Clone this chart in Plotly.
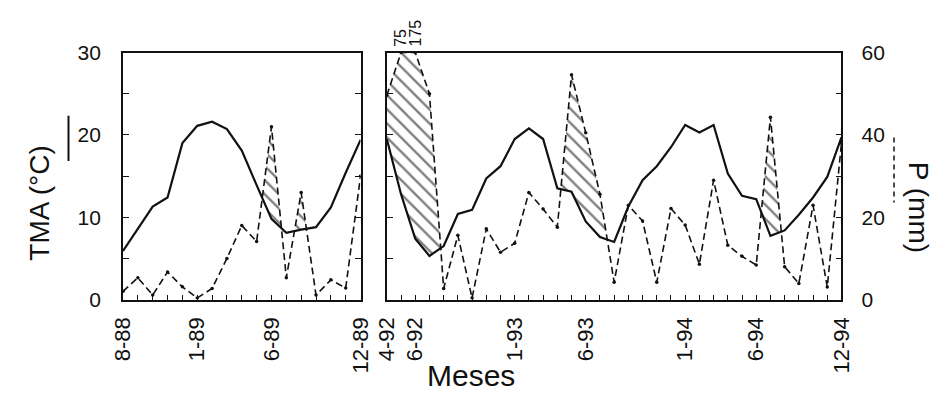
import numpy as np
import plotly.graph_objects as go

# ---------------- data ----------------
months_left = ["8-88", "9-88", "10-88", "11-88", "12-88", "1-89", "2-89", "3-89", "4-89",
               "5-89", "6-89", "7-89", "8-89", "9-89", "10-89", "11-89", "12-89"]
months_right = ["4-92", "5-92", "6-92", "7-92", "8-92", "9-92", "10-92", "11-92", "12-92",
                "1-93", "2-93", "3-93", "4-93", "5-93", "6-93", "7-93", "8-93", "9-93",
                "10-93", "11-93", "12-93", "1-94", "2-94", "3-94", "4-94", "5-94", "6-94",
                "7-94", "8-94", "9-94", "10-94", "11-94", "12-94"]
labels_left = ["8-88", "1-89", "6-89", "12-89"]
labels_right = ["4-92", "6-92", "1-93", "6-93", "1-94", "6-94", "12-94"]

tma_left = [5.9, 8.6, 11.3, 12.4, 19.0, 21.1, 21.6, 20.7, 18.1, 13.9, 9.8, 8.1, 8.5, 8.8,
            11.2, 15.4, 19.4]
p_left = [2.0, 5.3, 1.1, 6.7, 3.1, 0.4, 2.7, 10.0, 18.0, 14.1, 42.0, 5.3, 26.0, 1.1, 4.8,
          2.8, 30.0]

tma_right = [19.5, 12.8, 7.4, 5.3, 6.5, 10.4, 10.9, 14.7, 16.2, 19.5, 20.8, 19.5, 13.5, 13.1,
             9.5, 7.6, 7.0, 11.3, 14.5, 16.2, 18.5, 21.2, 20.3, 21.2, 15.3, 12.6, 12.2, 7.75,
             8.4, 10.3, 12.4, 14.9, 19.7]
p_right = [49.6, 75.0, 175.0, 50.0, 2.7, 15.6, 0.4, 17.2, 11.5, 13.7, 26.0, 22.0, 17.6, 54.6,
           40.5, 25.6, 4.2, 22.9, 19.1, 4.2, 22.1, 18.1, 8.6, 29.0, 13.2, 10.5, 8.4, 44.3,
           8.0, 3.9, 22.9, 3.05, 38.0]

T_MAX = 30
P_MAX = 60

FONT = "Liberation Sans, Arial, Helvetica, sans-serif"
INK = "#111111"


def hatch_bounds(tma, p):
    """Lower (T) and upper (max(P/2, T)) boundaries with crossing points inserted."""
    t = np.asarray(tma, float)
    ph = np.minimum(np.asarray(p, float), P_MAX) * T_MAX / P_MAX
    xs, lo, up = [], [], []
    for k in range(len(t)):
        xs.append(k)
        lo.append(t[k])
        up.append(max(ph[k], t[k]))
        if k < len(t) - 1:
            d0 = ph[k] - t[k]
            d1 = ph[k + 1] - t[k + 1]
            if d0 * d1 < 0:
                f = d0 / (d0 - d1)
                ti = t[k] + f * (t[k + 1] - t[k])
                xs.append(k + f)
                lo.append(ti)
                up.append(ti)
    return xs, lo, up


fig = go.Figure()

panels = [
    ("x", "y", "y4", tma_left, p_left),
    ("x2", "y2", "y3", tma_right, p_right),
]
for xa, ya, pa, tma, p in panels:
    xs, lo, up = hatch_bounds(tma, p)
    fig.add_trace(go.Scatter(x=xs, y=lo, xaxis=xa, yaxis=ya, mode="lines",
                             line=dict(width=0, color="rgba(0,0,0,0)"),
                             hoverinfo="skip", showlegend=False))
    fig.add_trace(go.Scatter(x=xs, y=up, xaxis=xa, yaxis=ya, mode="lines",
                             line=dict(width=0, color="rgba(0,0,0,0)"),
                             fill="tonexty", fillcolor="rgba(0,0,0,0)",
                             fillpattern=dict(shape="\\", size=10, solidity=0.24,
                                              fgcolor="#000000", bgcolor="rgba(0,0,0,0)"),
                             hoverinfo="skip", showlegend=False))
    n = len(tma)
    fig.add_trace(go.Scatter(x=list(range(n)), y=tma, xaxis=xa, yaxis=ya, mode="lines",
                             line=dict(color=INK, width=2.2), showlegend=False))
    fig.add_trace(go.Scatter(x=list(range(n)), y=np.minimum(p, P_MAX), xaxis=xa, yaxis=pa,
                             mode="lines+markers",
                             line=dict(color=INK, width=1.6, dash="7px,4px"),
                             marker=dict(size=3.5, color=INK),
                             showlegend=False))

H, W = 403, 944
ybot, ytop = 305, 43
ydom = [(H - ybot) / H, (H - ytop) / H]

ytickfont = dict(family=FONT, size=21, color=INK)
xtickfont = dict(family=FONT, size=22, color=INK)
common_x = dict(showgrid=False, zeroline=False, showline=True, linecolor=INK, linewidth=1.8,
                mirror=True, ticks="inside", ticklen=5, tickwidth=1.2, tickcolor=INK,
                tickangle=-90, tickfont=xtickfont, ticklabelstandoff=7)
common_y = dict(showgrid=False, zeroline=False, showline=True, linecolor=INK, linewidth=1.8,
                ticks="inside", ticklen=6, tickwidth=1.2, tickcolor=INK, tickfont=ytickfont)

fig.update_layout(
    width=W, height=H,
    margin=dict(l=0, r=0, t=0, b=0),
    paper_bgcolor="white", plot_bgcolor="white",
    font=dict(family=FONT, color=INK),
    xaxis=dict(domain=[113 / W, 357 / W], range=[0, len(months_left) - 1], anchor="y",
               tickvals=list(range(len(months_left))),
               ticktext=[m if m in labels_left else "" for m in months_left], **common_x),
    yaxis=dict(domain=ydom, range=[0, T_MAX], anchor="x", tickvals=list(range(0, 31, 5)),
               ticktext=["0", "", "10", "", "20", "", "30"], mirror="ticks",
               ticklabelstandoff=16, **common_y),
    yaxis4=dict(domain=ydom, range=[0, P_MAX], anchor="x", overlaying="y", visible=False),
    xaxis2=dict(domain=[384 / W, 851 / W], range=[0, len(months_right) - 1], anchor="y2",
                tickvals=list(range(len(months_right))),
                ticktext=[m if m in labels_right else "" for m in months_right], **common_x),
    yaxis2=dict(domain=ydom, range=[0, T_MAX], anchor="x2", tickvals=list(range(0, 31, 5)),
                showticklabels=False, mirror=True, **common_y),
    yaxis3=dict(domain=ydom, range=[0, P_MAX], anchor="x2", overlaying="y2", side="right",
                tickvals=list(range(0, 61, 10)),
                ticktext=["0", "", "20", "", "40", "", "60"], ticklabelstandoff=14, **common_y),
)

annotations = [
    dict(text="TMA (\u00b0C)", x=27 / W, y=(H - 203) / H, xref="paper", yref="paper",
         xanchor="center", yanchor="middle",
         textangle=-90, showarrow=False, font=dict(family=FONT, size=28, color=INK)),
    dict(text="P (mm)", x=930 / W, y=(H - 207) / H, xref="paper", yref="paper",
         xanchor="center", yanchor="middle",
         textangle=90, showarrow=False, font=dict(family=FONT, size=28, color=INK)),
    dict(text="Meses", x=470 / W, y=(H - 386) / H, xref="paper", yref="paper",
         xanchor="center", yanchor="middle",
         showarrow=False, font=dict(family=FONT, size=30, color=INK)),
]
for k, v in enumerate(p_right):
    if v > P_MAX:
        annotations.append(dict(text=f"{v:g}", x=k, y=(H - ytop + 4) / H, xref="x2",
                                yref="paper", yanchor="bottom", xanchor="center",
                                textangle=-90,
                                showarrow=False, font=dict(family=FONT, size=16, color=INK)))
fig.update_layout(annotations=annotations)

fig.update_layout(shapes=[
    dict(type="line", xref="paper", yref="paper", x0=57 / W, x1=57 / W,
         y0=(H - 110) / H, y1=(H - 158) / H, line=dict(color=INK, width=2)),
    dict(type="line", xref="paper", yref="paper", x0=905 / W, x1=905 / W,
         y0=(H - 133) / H, y1=(H - 202) / H, line=dict(color=INK, width=1.5, dash="5px,4px")),
])

fig.write_html("out.html")
